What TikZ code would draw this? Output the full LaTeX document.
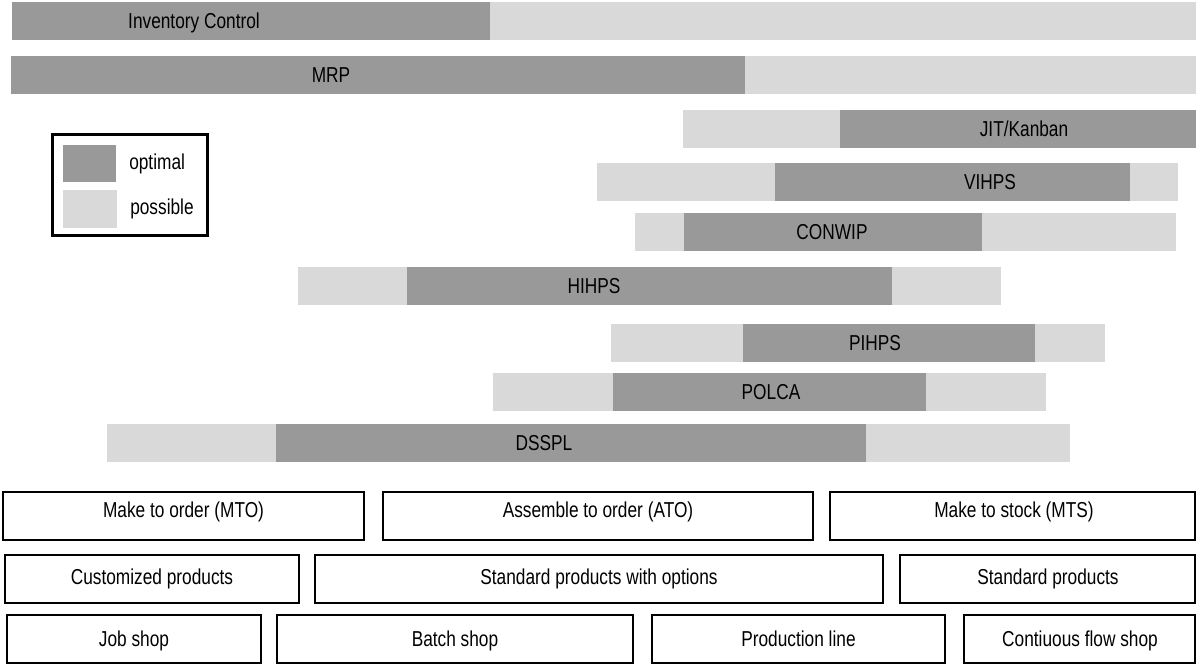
\documentclass[tikz,border=0pt]{standalone}
\usepackage{fontspec}
\setmainfont{Liberation Sans}[FakeStretch=0.8]
\definecolor{optimalgray}{gray}{0.6}
\definecolor{possiblegray}{gray}{0.851}
\tikzset{
  optbar/.style={fill=optimalgray, draw=none},
  posbar/.style={fill=possiblegray, draw=none},
  lbl/.style={anchor=base, inner sep=0pt, font=\fontsize{16.2}{19}\selectfont},
  catbox/.style={draw=black, line width=1.5pt},
}
\begin{document}
\begin{tikzpicture}[x=0.75pt, y=-0.75pt]
\useasboundingbox (0,0) rectangle (1196,664);

% Planning and control approaches: optimal / possible ranges
\fill[optbar] (12,2) rectangle (490,40);
\fill[posbar] (490,2) rectangle (1196,40);
\node[lbl] (invctl) at (194,28) {Inventory Control};

\fill[optbar] (11,56) rectangle (745,94);
\fill[posbar] (745,56) rectangle (1196,94);
\node[lbl] (mrp) at (331,82) {MRP};

\fill[posbar] (683,110) rectangle (840,148);
\fill[optbar] (840,110) rectangle (1196,148);
\node[lbl] (jit) at (1024,136) {JIT/Kanban};

\fill[posbar] (597,163) rectangle (775,201);
\fill[optbar] (775,163) rectangle (1130,201);
\fill[posbar] (1130,163) rectangle (1178,201);
\node[lbl] (vihps) at (990,189) {VIHPS};

\fill[posbar] (635,213) rectangle (684,251);
\fill[optbar] (684,213) rectangle (982,251);
\fill[posbar] (982,213) rectangle (1176,251);
\node[lbl] (conwip) at (832,239) {CONWIP};

\fill[posbar] (298,267) rectangle (407,305);
\fill[optbar] (407,267) rectangle (892,305);
\fill[posbar] (892,267) rectangle (1001,305);
\node[lbl] (hihps) at (594,293) {HIHPS};

\fill[posbar] (611,324) rectangle (743,362);
\fill[optbar] (743,324) rectangle (1035,362);
\fill[posbar] (1035,324) rectangle (1105,362);
\node[lbl] (pihps) at (875,350) {PIHPS};

\fill[posbar] (493,373) rectangle (613,411);
\fill[optbar] (613,373) rectangle (926,411);
\fill[posbar] (926,373) rectangle (1046,411);
\node[lbl] (polca) at (771,399) {POLCA};

\fill[posbar] (107,424) rectangle (276,462);
\fill[optbar] (276,424) rectangle (866,462);
\fill[posbar] (866,424) rectangle (1070,462);
\node[lbl] (dsspl) at (544,450) {DSSPL};

% Legend
\draw[line width=2.25pt] (52,134) rectangle (207,235);
\fill[optbar] (63,145) rectangle (116,182);
\fill[posbar] (63,190) rectangle (117,228);
\node[lbl, anchor=base west] (lgopt) at (129,169) {optimal};
\node[lbl, anchor=base west] (lgpos) at (130,214) {possible};

% Order strategy
\draw[catbox] (3,492) rectangle (364,540);
\node[lbl] (mto) at (183.5,517) {Make to order (MTO)};
\draw[catbox] (383,492) rectangle (813,540);
\node[lbl] (ato) at (598,517) {Assemble to order (ATO)};
\draw[catbox] (830,492) rectangle (1195,540);
\node[lbl] (mts) at (1014,517) {Make to stock (MTS)};

% Product type
\draw[catbox] (5,555) rectangle (299,603);
\node[lbl] (custom) at (152,584) {Customized products};
\draw[catbox] (315,555) rectangle (883,603);
\node[lbl] (stdopt) at (599,584) {Standard products with options};
\draw[catbox] (900,555) rectangle (1195,603);
\node[lbl] (std) at (1048,584) {Standard products};

% Shop type
\draw[catbox] (7,615) rectangle (261,663);
\node[lbl] (job) at (134,646) {Job shop};
\draw[catbox] (277,615) rectangle (633,663);
\node[lbl] (batch) at (455,646) {Batch shop};
\draw[catbox] (652,615) rectangle (945,663);
\node[lbl] (line) at (798.5,646) {Production line};
\draw[catbox] (964,615) rectangle (1195,663);
\node[lbl] (flow) at (1080,646) {Contiuous flow shop};
\end{tikzpicture}
\end{document}
